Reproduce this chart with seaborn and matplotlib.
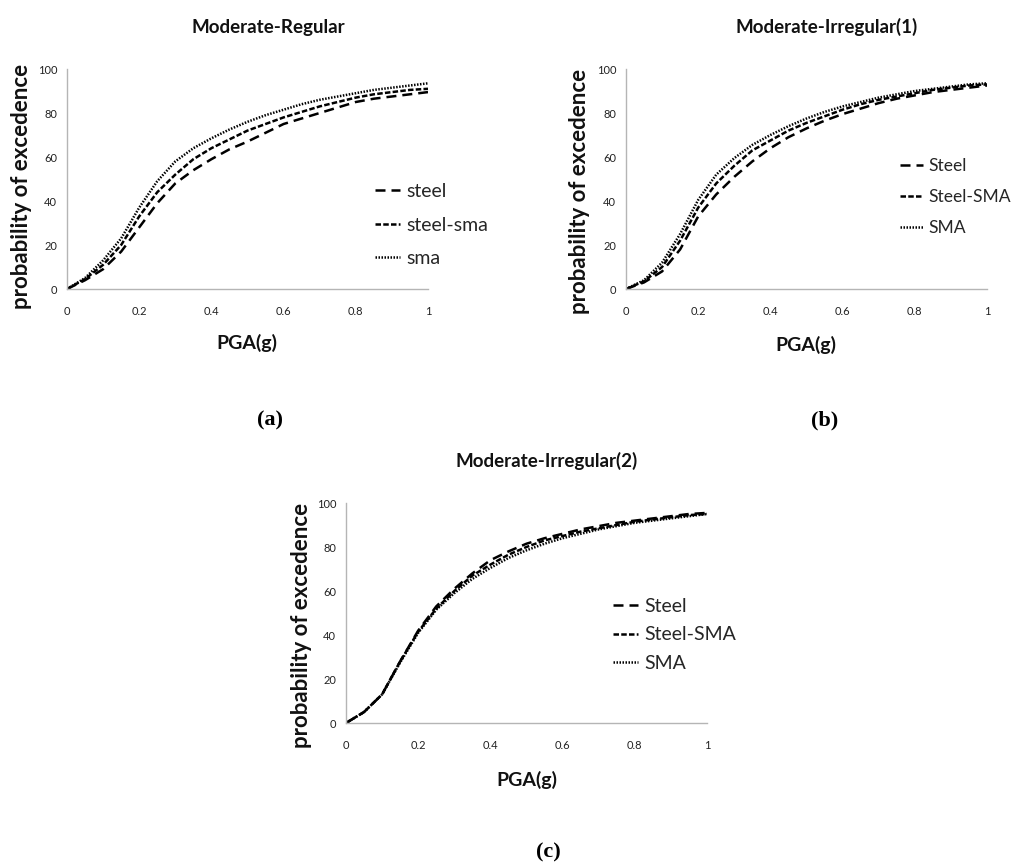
import matplotlib
matplotlib.use("Agg")
import matplotlib.pyplot as plt
import seaborn as sns
import pandas as pd

# ---- data: probability of exceedance (%) vs PGA (g) ----
pga = [0.0, 0.05, 0.10, 0.15, 0.20, 0.25, 0.30, 0.35, 0.40, 0.45, 0.50,
       0.55, 0.60, 0.65, 0.70, 0.75, 0.80, 0.85, 0.90, 0.95, 1.00]

reg_steel = [0, 4, 9, 17, 28, 39, 48, 54, 59, 63.5, 67, 71, 75, 77.5, 80,
             82.5, 85, 86.5, 87.5, 88.5, 89.5]
reg_steel_sma = [0, 4.5, 11, 20, 33, 44, 52, 59, 64, 68, 72, 75, 78, 80.5,
                 83, 85, 87, 88.5, 89.5, 90.5, 91]
reg_sma = [0, 5, 13, 23, 37, 49, 58, 64, 68.5, 72.5, 76, 79, 81.5, 84, 86,
           87.5, 89, 90.5, 91.5, 92.5, 93.5]

irr1_steel = [0, 3, 8, 18, 33, 43, 51, 58, 64, 69, 73, 76.5, 79.5, 82, 84.5,
              86.5, 88, 89.5, 90.5, 91.5, 92.5]
irr1_steel_sma = [0, 3.5, 10, 22, 37, 48, 56, 63, 67.5, 72, 75.5, 78.5, 81.5,
                  84, 86, 87.5, 89, 90.5, 91.5, 92.5, 93]
irr1_sma = [0, 4, 12, 25, 40.5, 52, 59.5, 65.5, 70, 74, 77.5, 80.5, 83, 85,
            87, 88.5, 90, 91, 92, 93, 93.5]

irr2_steel = [0, 5, 13, 28, 42, 53, 61, 68, 74, 78, 81.5, 84, 86, 88, 89.5,
              91, 92, 93, 94, 95, 95.5]
irr2_steel_sma = [0, 5, 13, 28, 41.5, 52, 60, 67, 72, 76.5, 80, 83, 85, 87,
                  88.5, 90, 91.5, 92.5, 93.5, 94.5, 95]
irr2_sma = [0, 5, 13, 27.5, 41, 51.5, 59, 65.5, 70.5, 75, 78.5, 81.5, 84, 86,
            88, 89.5, 91, 92, 93, 94, 95]

x_ticks = [0, 0.2, 0.4, 0.6, 0.8, 1.0]
x_tick_labels = ["0", "0.2", "0.4", "0.6", "0.8", "1"]
y_ticks = [0, 20, 40, 60, 80, 100]

titles = ["Moderate-Regular", "Moderate-Irregular(1)", "Moderate-Irregular(2)"]
legend_labels = [["steel", "steel-sma", "sma"],
                 ["Steel", "Steel-SMA", "SMA"],
                 ["Steel", "Steel-SMA", "SMA"]]
panel_tags = ["(a)", "(b)", "(c)"]

sns.set_theme(style="white")
plt.rcParams["font.family"] = ["Lato", "DejaVu Sans"]

W, H = 1020, 863
fig = plt.figure(figsize=(W / 100, H / 100), dpi=100)


def rect(x0, y0, x1, y1):
    return [x0 / W, 1 - y1 / H, (x1 - x0) / W, (y1 - y0) / H]


def fx(px):
    return px / W


def fy(py):
    return 1 - py / H


styles = [(0, (4.0, 2.4)), (0, (2.2, 0.9)), (0, (0.6, 0.6))]

panels = [
    dict(box=(67, 69, 428, 289), series=[reg_steel, reg_steel_sma, reg_sma],
         title=(268, 27), xlab=(247, 343), ylab=(22, 186),
         leg=(375, 225), legsize=14, spacing=0.85, tag=(270, 420)),
    dict(box=(626, 69, 987, 289), series=[irr1_steel, irr1_steel_sma, irr1_sma],
         title=(827, 27), xlab=(806, 345), ylab=(580, 191),
         leg=(900, 197), legsize=12.6, spacing=0.85, tag=(825, 420)),
    dict(box=(346, 503, 707, 723), series=[irr2_steel, irr2_steel_sma, irr2_sma],
         title=(547, 461), xlab=(527, 780), ylab=(302, 625),
         leg=(613, 635), legsize=14, spacing=0.6, tag=(548, 852)),
]

for i, p in enumerate(panels):
    ax = fig.add_axes(rect(*p["box"]))
    for vals, ls, lab in zip(p["series"], styles, legend_labels[i]):
        df = pd.DataFrame({"PGA": pga, "P": vals})
        sns.lineplot(data=df, x="PGA", y="P", ax=ax, color="black",
                     linewidth=1.8, linestyle=ls, label=lab)
    ax.set_xlim(0, 1)
    ax.set_ylim(0, 100)
    ax.set_xticks(x_ticks)
    ax.set_xticklabels(x_tick_labels)
    ax.set_yticks(y_ticks)
    ax.tick_params(axis="both", length=0, labelsize=8, colors="#222222")
    ax.tick_params(axis="x", pad=12)
    ax.tick_params(axis="y", pad=7)
    ax.set_xlabel("")
    ax.set_ylabel("")
    for side in ("top", "right"):
        ax.spines[side].set_visible(False)
    for side in ("left", "bottom"):
        ax.spines[side].set_color("#b5b5b5")
        ax.spines[side].set_linewidth(1.0)

    lx, ly = p["leg"]
    ax.legend(loc="center left", bbox_to_anchor=(fx(lx), fy(ly)),
              bbox_transform=fig.transFigure, frameon=False,
              fontsize=p["legsize"], handlelength=1.3, handletextpad=0.3,
              labelspacing=p["spacing"], borderpad=0, borderaxespad=0)

    tx, ty = p["title"]
    fig.text(fx(tx), fy(ty), titles[i], ha="center", va="center",
             fontsize=13.5, fontweight="bold", color="#111111")
    xx, xy = p["xlab"]
    fig.text(fx(xx), fy(xy), "PGA(g)", ha="center", va="center",
             fontsize=14, fontweight="bold", color="#111111")
    yx, yy = p["ylab"]
    fig.text(fx(yx), fy(yy), "probability of excedence", ha="center",
             va="center", rotation=90, fontsize=16, fontweight="bold",
             color="#111111")
    gx, gy = p["tag"]
    fig.text(fx(gx), fy(gy), panel_tags[i], ha="center", va="center",
             fontsize=16, fontweight="bold", family="Liberation Serif",
             color="black")

fig.savefig("out.png", dpi=100)
